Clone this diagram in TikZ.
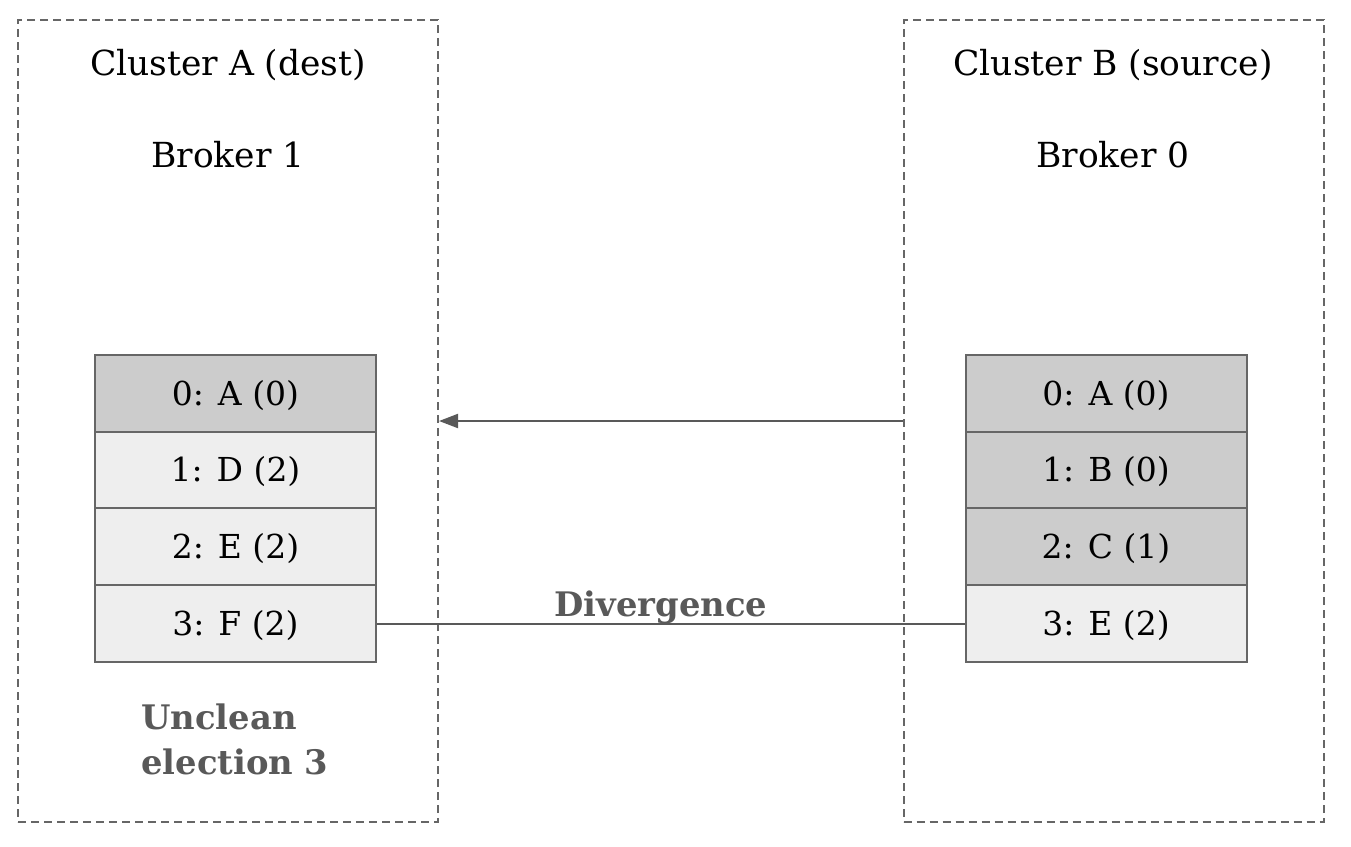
\documentclass[tikz,border=0pt]{standalone}
\usepackage{fontspec}
\setmainfont{DejaVu Serif}
\usetikzlibrary{arrows.meta}
\definecolor{edge}{HTML}{666666}
\definecolor{labelgray}{HTML}{595959}
\definecolor{darkrow}{HTML}{CCCCCC}
\definecolor{lightrow}{HTML}{EEEEEE}
\tikzset{
  cluster/.style={draw=edge, dash pattern=on 8pt off 5pt, line width=2pt,
    minimum width=420pt, minimum height=802pt, inner sep=0pt},
  title/.style={font=\fontsize{34.5}{40}\selectfont, text=black, inner sep=0pt},
  row/.style={draw=edge, line width=2pt, minimum width=281pt, minimum height=77pt,
    inner sep=0pt, font=\fontsize{33}{40}\selectfont, text height=28pt, text depth=5pt},
  darkcell/.style={row, fill=darkrow},
  lightcell/.style={row, fill=lightrow},
  note/.style={font=\bfseries\fontsize{33.8}{45}\selectfont, text=labelgray, inner sep=0pt},
  link/.style={draw=labelgray, line width=2pt},
}
\begin{document}
\begin{tikzpicture}[x=1pt,y=-1pt]
\path[use as bounding box] (0,0) rectangle (1351,846);
% clusters
\node[cluster] (clA) at (228,421) {};
\node[cluster] (clB) at (1113.5,421) {};
\node[title] (tA) at (228,65.5) {Cluster A (dest)};
\node[title] (bA) at (228,154.5) {Broker 1};
\node[title] (tB) at (1113,65.5) {Cluster B (source)};
\node[title] (bB) at (1113,154.5) {Broker 0};
% left log
\node[darkcell]  (a0) at (235.5,393.5) {0: A (0)};
\node[lightcell] (a1) at (235.5,470) {1: D (2)};
\node[lightcell] (a2) at (235.5,546.5) {2: E (2)};
\node[lightcell] (a3) at (235.5,623.5) {3: F (2)};
% right log
\node[darkcell]  (b0) at (1106,393.5) {0: A (0)};
\node[darkcell]  (b1) at (1106,470) {1: B (0)};
\node[darkcell]  (b2) at (1106,546.5) {2: C (1)};
\node[lightcell] (b3) at (1106,623.5) {3: E (2)};
% connectors
\draw[link, -{Triangle[length=19pt,width=14pt]}] (clB.west) -- (clA.east);
\draw[link] (a3.east) -- (b3.west);
\node[note] (div) at (661,607) {Divergence};
\node[note, align=left, anchor=north west] (unclean) at (141,704) {Unclean\\election 3};
\end{tikzpicture}
\end{document}
